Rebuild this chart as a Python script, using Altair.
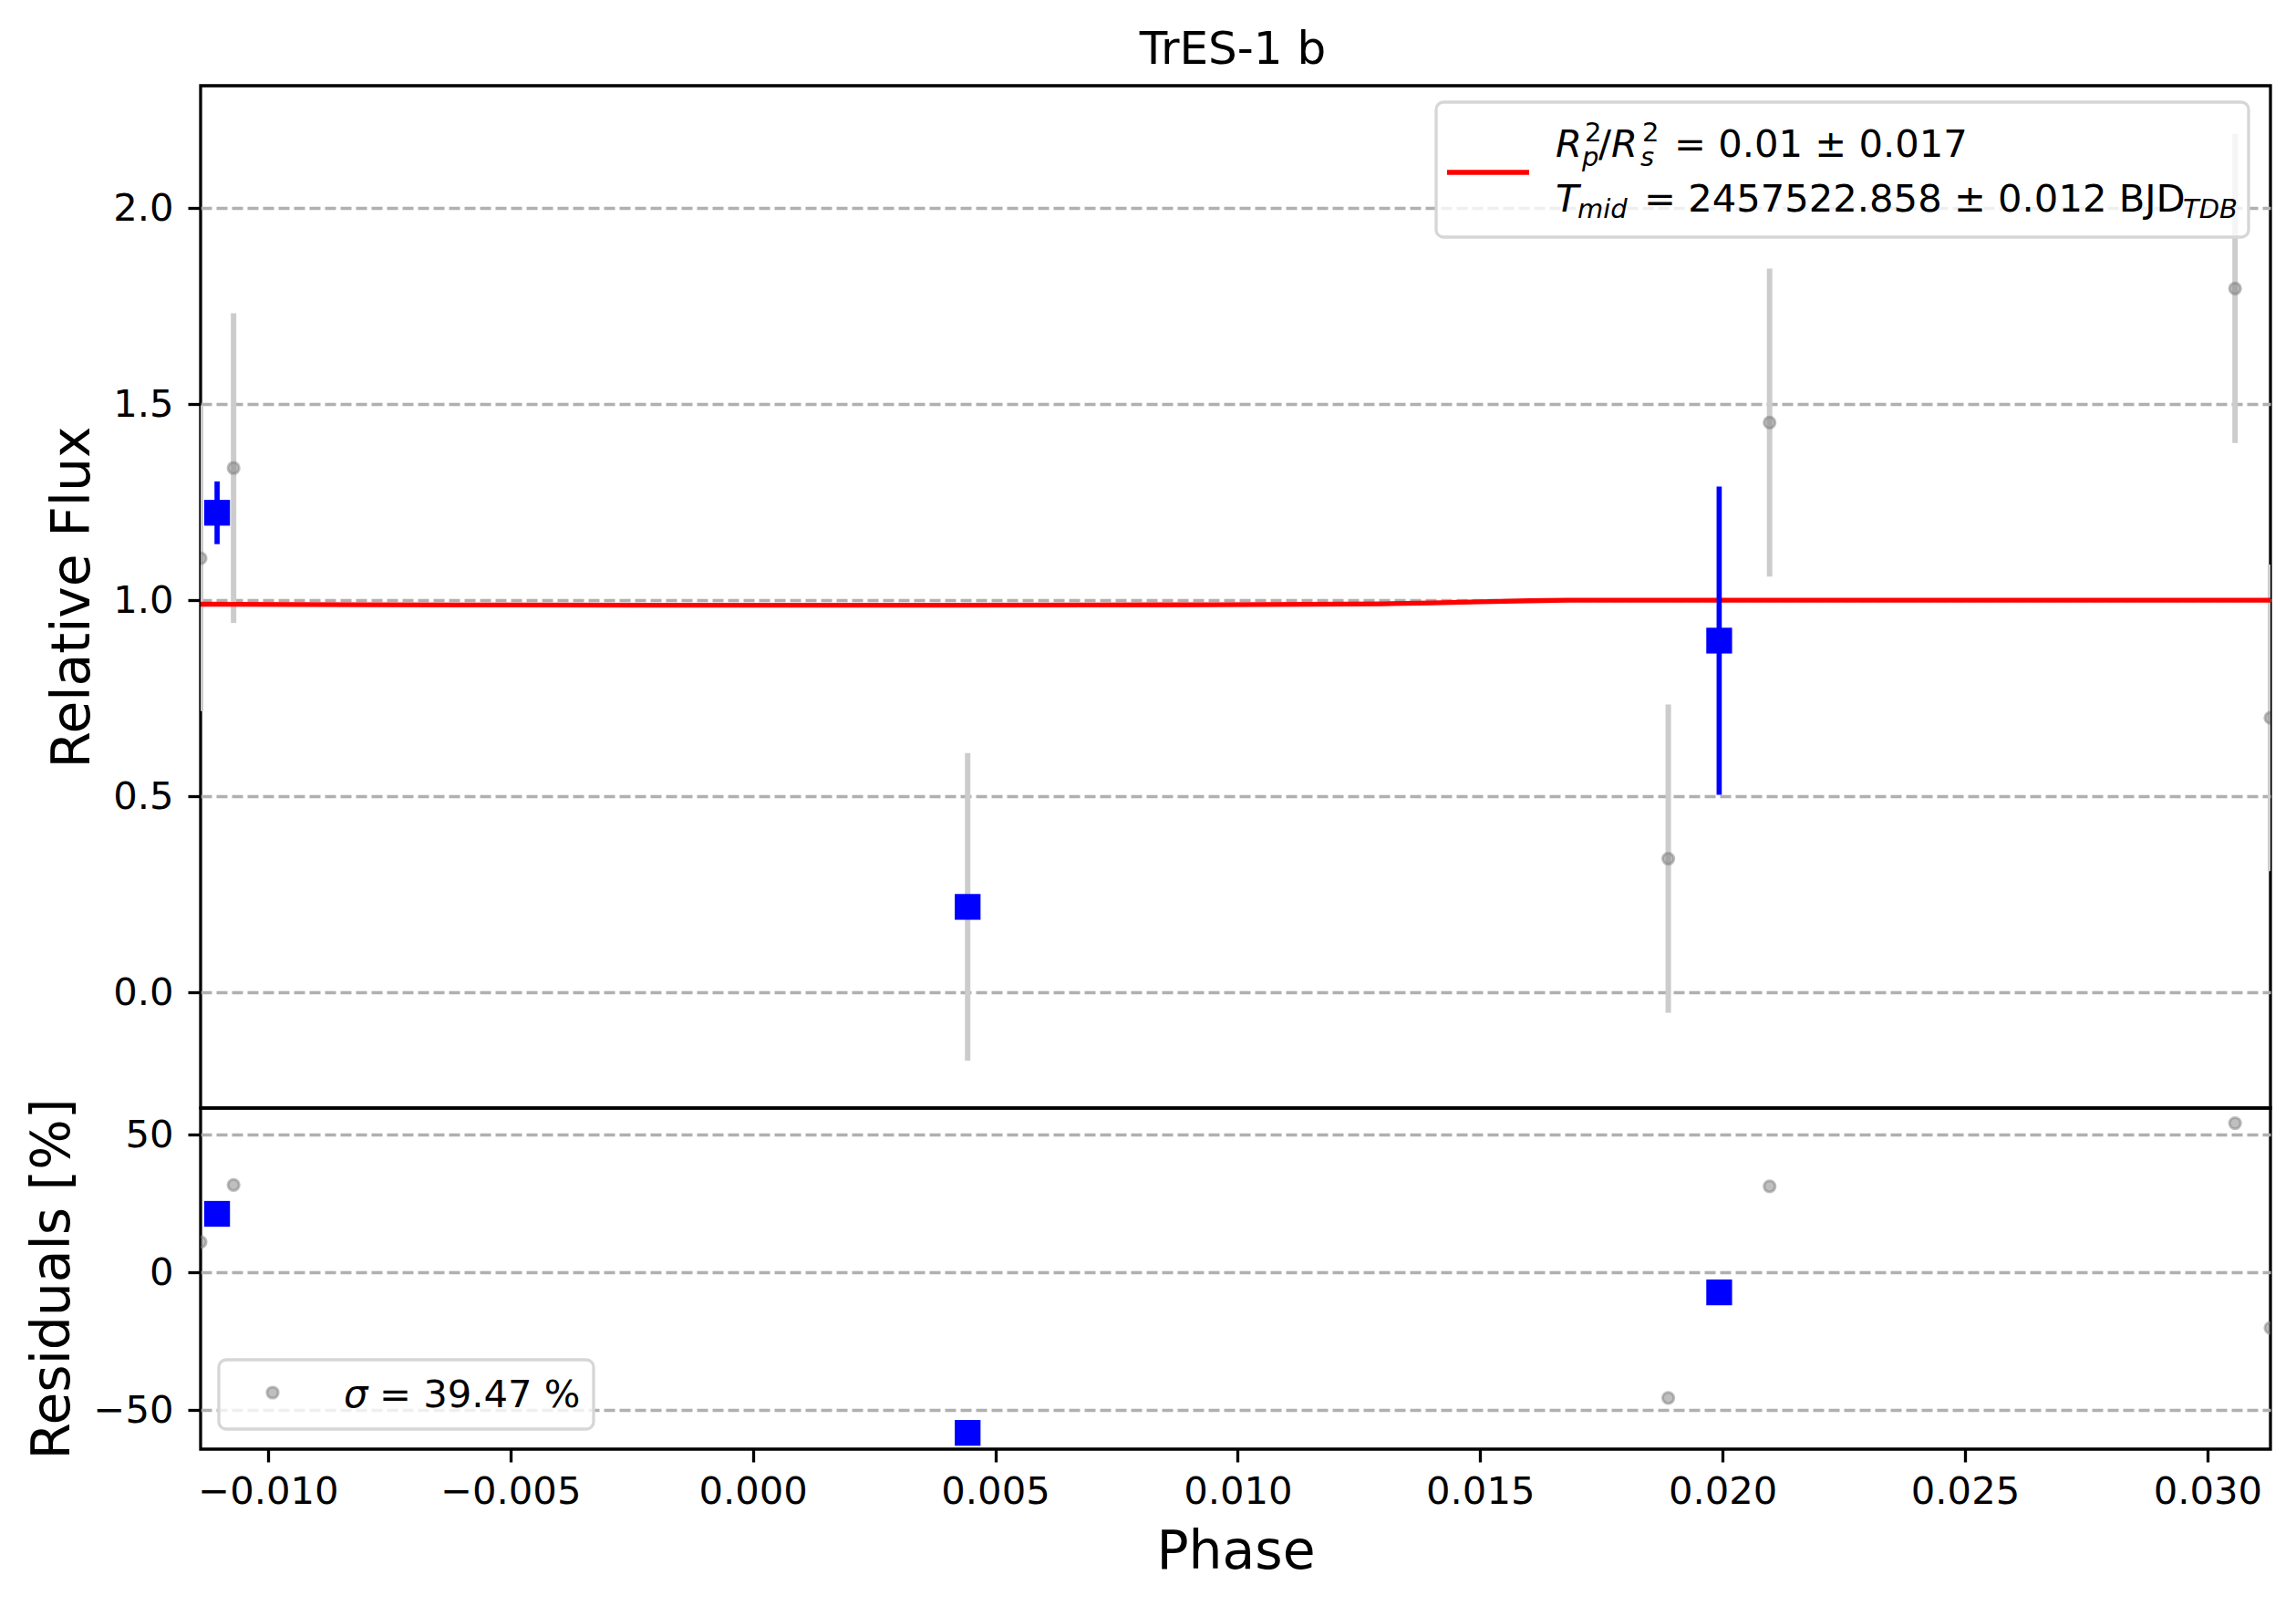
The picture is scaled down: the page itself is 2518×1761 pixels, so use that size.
import altair as alt
import pandas as pd

# unbinned points (grey)
phase_raw = [-0.01139, -0.01071, 0.00443, 0.01888, 0.02097, 0.03057, 0.0313]
flux_raw = [1.107, 1.337, 0.218, 0.341, 1.453, 1.795, 0.700]
flux_raw_err = [0.390, 0.395, 0.392, 0.393, 0.393, 0.394, 0.391]
resid_raw = [11.0, 31.7, -58.3, -45.6, 31.2, 54.1, -20.2]

# binned points (blue)
phase_bin = [-0.01105, 0.00443, 0.01993]
flux_bin = [1.223, 0.218, 0.897]
flux_bin_err = [0.080, 0.0, 0.393]
resid_bin = [21.2, -58.3, -7.3]

# transit model (red)
model_phase = [-0.01139, -0.008, -0.005, -0.002, 0.001, 0.004, 0.007, 0.0095,
               0.0115, 0.013, 0.014, 0.015, 0.016, 0.0168, 0.0313]
model_flux = [0.9899, 0.9884, 0.9877, 0.9873, 0.9872, 0.9873, 0.9877, 0.9886,
              0.9898, 0.9910, 0.9930, 0.9958, 0.9986, 1.0, 1.0]

x_ticks = [-0.010, -0.005, 0.000, 0.005, 0.010, 0.015, 0.020, 0.025, 0.030]
flux_ticks = [0.0, 0.5, 1.0, 1.5, 2.0]
resid_ticks = [-50, 0, 50]

FONT = 'DejaVu Sans'
W, H_TOP, H_BOT = 2270, 1121, 374
LW = 3.3
LABEL_FS, TITLE_FS = 41.7, 58.3

raw = pd.DataFrame({'phase': phase_raw, 'flux': flux_raw, 'err': flux_raw_err, 'resid': resid_raw})
raw['lo'] = raw['flux'] - raw['err']
raw['hi'] = raw['flux'] + raw['err']
binned = pd.DataFrame({'phase': phase_bin, 'flux': flux_bin, 'err': flux_bin_err, 'resid': resid_bin})
binned['lo'] = binned['flux'] - binned['err']
binned['hi'] = binned['flux'] + binned['err']
model = pd.DataFrame({'phase': model_phase, 'flux': model_flux})
one = pd.DataFrame({'k': [0]})

x_scale = alt.Scale(domain=[-0.01139, 0.0313], nice=False, zero=False)
y_top_scale = alt.Scale(domain=[-0.295, 2.312], nice=False, zero=False)
y_bot_scale = alt.Scale(domain=[-64.2, 59.6], nice=False, zero=False)


def y_axis(title, values, fmt, pad):
    return alt.Axis(title=title, values=values, format=fmt, grid=True,
                    gridDash=[12, 5], gridColor='#b0b0b0', gridWidth=LW,
                    domain=False, ticks=True, tickSize=14, tickWidth=LW, tickColor='black',
                    labelFont=FONT, labelFontSize=LABEL_FS, labelColor='black', labelPadding=16,
                    titleFont=FONT, titleFontSize=TITLE_FS, titleFontWeight='normal',
                    titleColor='black', titlePadding=pad)


top_y_axis = y_axis('Relative Flux', flux_ticks, '.1f', 14)
bot_y_axis = y_axis('Residuals [%]', resid_ticks, 'd', 15)
x_top = alt.X('phase:Q', scale=x_scale, axis=None)
x_bot = alt.X('phase:Q', scale=x_scale,
              axis=alt.Axis(title='Phase', values=x_ticks, format='.3f', grid=False,
                            domain=False, tickSize=14, tickWidth=LW, tickColor='black',
                            labelFont=FONT, labelFontSize=LABEL_FS, labelColor='black',
                            labelPadding=12, labelFlush=False,
                            titleFont=FONT, titleFontSize=TITLE_FS, titleFontWeight='normal',
                            titleColor='black', titlePadding=17))


def piece(txt, x, y, size=LABEL_FS, italic=False, align='left'):
    return alt.Chart(one).mark_text(
        text=txt, font=FONT, fontSize=size, fontStyle='italic' if italic else 'normal',
        align=align, baseline='alphabetic', color='black'
    ).encode(x=alt.value(x), y=alt.value(y))


def grey_points(data, x, y):
    return alt.Chart(data).mark_point(
        shape='circle', filled=True, size=150, fill='gray', fillOpacity=0.5,
        stroke='gray', strokeOpacity=0.5, strokeWidth=3, clip=True
    ).encode(x=x, y=y)


# ---- top panel
ty = alt.Y('flux:Q', scale=y_top_scale, axis=top_y_axis)
ty_lo = alt.Y('lo:Q', scale=y_top_scale, axis=top_y_axis)
raw_bars = alt.Chart(raw).mark_rule(color='#cccccc', strokeWidth=6, clip=True).encode(
    x=x_top, y=ty_lo, y2='hi:Q')
raw_pts = grey_points(raw, x_top, ty)
model_line = alt.Chart(model).mark_line(color='red', strokeWidth=5.3, clip=True).encode(x=x_top, y=ty)
bin_bars = alt.Chart(binned).mark_rule(color='blue', strokeWidth=5.7, clip=True).encode(
    x=x_top, y=ty_lo, y2='hi:Q')
bin_pts = alt.Chart(binned).mark_point(shape='square', filled=True, size=800, color='blue',
                                       opacity=1, clip=True).encode(x=x_top, y=ty)

leg_box = alt.Chart(one).mark_rect(fill='white', fillOpacity=0.8, stroke='#d6d6d6',
                                   strokeWidth=LW, cornerRadius=8).encode(
    x=alt.value(1355), x2=alt.value(2246), y=alt.value(18), y2=alt.value(166))
leg_line = alt.Chart(one).mark_rule(color='red', strokeWidth=5.3).encode(
    x=alt.value(1367), x2=alt.value(1457), y=alt.value(95))
leg_text = [
    piece('R', 1486, 78, italic=True),
    piece('2', 1518, 61, 29),
    piece('p', 1515, 88, 29, italic=True),
    piece('/', 1533, 78),
    piece('R', 1547, 78, italic=True),
    piece('2', 1581, 61, 29),
    piece('s', 1579, 88, 29, italic=True),
    piece('= 0.01 ± 0.017', 1616, 78),
    piece('T', 1486, 138, italic=True),
    piece('mid', 1510, 145, 29, italic=True),
    piece('= 2457522.858 ± 0.012 BJD', 1583, 138),
    piece('TDB', 2174, 145, 29, italic=True),
]
title = piece('TrES-1 b', 1132, -24, 50, align='center')

top = alt.layer(raw_bars, raw_pts, model_line, bin_bars, bin_pts,
                leg_box, leg_line, *leg_text, title).properties(width=W, height=H_TOP)

# ---- bottom panel
by = alt.Y('resid:Q', scale=y_bot_scale, axis=bot_y_axis)
res_raw = grey_points(raw, x_bot, by)
res_bin = alt.Chart(binned).mark_point(shape='square', filled=True, size=800, color='blue',
                                       opacity=1, clip=True).encode(x=x_bot, y=by)
sig_box = alt.Chart(one).mark_rect(fill='white', fillOpacity=0.8, stroke='#d6d6d6',
                                   strokeWidth=LW, cornerRadius=8).encode(
    x=alt.value(20), x2=alt.value(431), y=alt.value(276), y2=alt.value(352))
sig_pt = alt.Chart(one).mark_point(
    shape='circle', filled=True, size=150, fill='gray', fillOpacity=0.5,
    stroke='gray', strokeOpacity=0.5, strokeWidth=3
).encode(x=alt.value(79), y=alt.value(312))
sig_text = [piece('σ', 157, 328, italic=True), piece('= 39.47 %', 196, 328)]

bottom = alt.layer(res_raw, res_bin, sig_box, sig_pt, *sig_text).properties(width=W, height=H_BOT)

chart = alt.vconcat(top, bottom, spacing=0, bounds='flush').properties(
    padding={'left': 18, 'top': 20, 'right': 0, 'bottom': 5}
).configure(background='white').configure_view(stroke='black', strokeWidth=LW)

chart.save('out.html', embed_options={'renderer': 'svg', 'actions': False})
